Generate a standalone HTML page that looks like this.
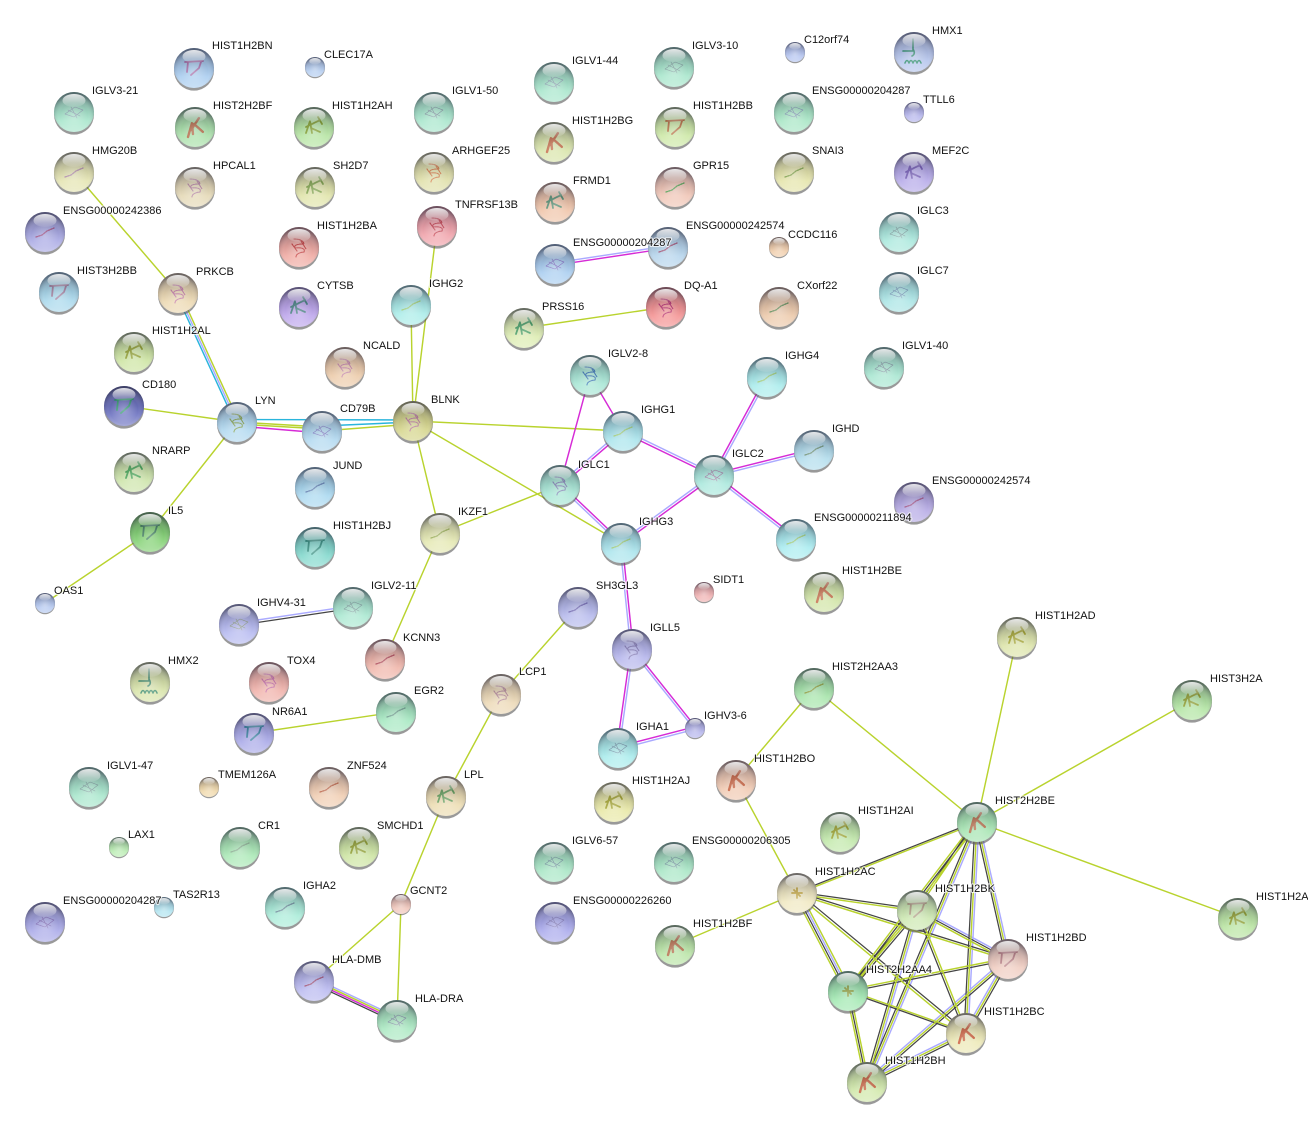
<!DOCTYPE html>
<html><head><meta charset="utf-8"><title>Network</title>
<style>
html,body{margin:0;padding:0;background:#fff}
svg{display:block}
text{font-family:"Liberation Sans",Arial,sans-serif;font-size:11px;fill:#111;stroke:#fff;stroke-width:2.2px;stroke-opacity:.75;paint-order:stroke;stroke-linejoin:round}
.e{fill:none;stroke-width:1.45}
.Y{stroke:#b9d32e}.K{stroke:#444;stroke-width:1.25}.B{stroke:#aaaaff}.M{stroke:#d62bd6}.C{stroke:#2ab5dc}
.s{fill:none;stroke-linecap:round;stroke-linejoin:round}
</style></head><body>
<svg width="1308" height="1127" viewBox="0 0 1308 1127" xmlns="http://www.w3.org/2000/svg">
<defs>
<radialGradient id="r" cx="50%" cy="60%" r="56%"><stop offset="0" stop-color="#fff" stop-opacity=".3"/><stop offset=".62" stop-color="#fff" stop-opacity="0"/><stop offset=".88" stop-color="#334" stop-opacity=".14"/><stop offset="1" stop-color="#223" stop-opacity=".36"/></radialGradient>
<linearGradient id="v" x1="0" y1="0" x2="0" y2="1"><stop offset="0" stop-color="#334" stop-opacity=".5"/><stop offset=".5" stop-color="#445" stop-opacity=".12"/><stop offset=".72" stop-color="#fff" stop-opacity=".12"/><stop offset="1" stop-color="#fff" stop-opacity=".4"/></linearGradient>
<linearGradient id="h" x1="0" y1="0" x2="0" y2="1"><stop offset="0" stop-color="#fff" stop-opacity=".85"/><stop offset="1" stop-color="#fff" stop-opacity=".06"/></linearGradient>
<g id="n"><ellipse cx="0" cy="2.6" rx="20" ry="20" fill="#555" fill-opacity=".6" stroke="none"/><circle r="20" stroke="none"/></g>
<g id="o" stroke="none"><circle r="20" fill="url(#v)"/><circle r="20" fill="url(#r)"/><ellipse cx="0" cy="-11.5" rx="11.5" ry="6.5" fill="url(#h)"/></g>
<path id="k" class="s" stroke-width="2.4" stroke-dasharray="1.8 .7" d="M-7 10L-3-4L-2 7M-4 3L4-9M-1-3L8 5"/>
<path id="t" class="s" stroke-width="1.8" d="M-9-6L9-7M-6-6L-7 4M7-6L5 0L-3 7"/>
<path id="b" class="s" stroke-width="1.1" stroke-dasharray="1.6 .9" d="M-5-8Q4-8 5-3Q-6-3-4 1Q7 0 5 5Q-3 6-3 10M-7-3L-2 4M2-6L7 2"/>
<path id="l" class="s" stroke-width="1.3" stroke-dasharray="1.6 1.2" d="M-9 5L-3 3L2-1L9-4"/>
<path id="c" class="s" stroke-width=".6" stroke-dasharray="1.5 .5" d="M-9 2L1-5L9-2L0 5ZM-6-2L6 4M-3-5L3 6"/>
<path id="g" class="s" stroke-width="1.8" stroke-dasharray="2 .6" d="M-8 6L-4-6L-2 6M-8 0L6-7M-3 1L6 5M4-10L8-3"/>
<path id="x" class="s" stroke-width="1.6" d="M-1-13V-2M-1-3Q2 2-2 4M-11-1h10M-9 11q2-5 4 0q2-5 4 0q2-5 4 0q2-5 4 0"/>
</defs>

<path class="e Y" d="M74 172L178 293M437 226L413 421M411 305L413 421M524 328L666 307M124 406L237 422M237 422L150 532M150 532L45 603M413 421L623 431M413 421L621 543M413 421L440 533M440 533L560 485M440 533L385 659M254 733L396 712M578 607L501 694M501 694L446 796M446 796L401 904M401 904L314 981M401 904L397 1020M814 688L736 780M736 780L797 893M814 688L977 822M1017 637L977 822M1192 700L977 822M1238 918L977 822M797 893L675 945M179.8 292.2L238.8 421.2M237 422L322 427M237 424L322 429M322 431L413 424M314.4 980.2L397.4 1019.2"/>
<path class="e C" d="M176.2 293.8L235.2 422.8M237 419.5L413 420M322 426L413 422"/>
<path class="e M" d="M590 375L623 431M590 375L560 485M237 426L322 433M555.2 265.2L668.2 248.2M622.2 543L633.2 649M630.8 649L616.8 748M632.9 648.3L695.9 727.3M617.7 746.8L694.7 726.8M560.8 485.9L623.8 431.9M622.5 432.1L713.5 476.1M560.8 484.1L621.8 542.1M714.7 476L621.7 544M713 474.4L766 376.4M713.7 473.8L813.7 448.8M714.7 474L796.7 538M313.6 981.8L396.6 1020.8"/>
<path class="e B" d="M178 293L237 422M554.8 262.8L667.8 245.8M238.8 622.8L352.8 605.8M619.8 543L630.8 649M633.2 649L619.2 748M631.1 649.7L694.1 728.7M618.3 749.2L695.3 729.2M559.2 484.1L622.2 430.1M623.5 429.9L714.5 473.9M559.2 485.9L620.2 543.9M713.3 474L620.3 542M715 475.6L768 377.6M714.3 476.2L814.3 451.2M713.3 476L795.3 540M315.2 978.6L398.2 1017.6"/>
<path class="e K" d="M239.2 625.2L353.2 608.2M312.8 983.4L395.8 1022.4"/>

<path class="e B" d="M797.9 892.5L848.9 990.5M868.8 1082.8L978.8 822.8M979 822L968 1033M978.9 821.6L1009.9 958.6M917.9 908.2L1008.9 957.2M918.9 910.6L868.9 1082.6M1006.3 958L964.3 1032M1006.7 957.5L865.7 1080.5M965.1 1031.2L866.1 1080.2"/>
<path class="e K" d="M797 892L917 909M797.3 892L1008.3 958M797.4 892L977.4 821M798 892.2L967 1032.2M796.1 893.5L847.1 991.5M915.3 908.9L975.3 820.9M848 991L977 822M865.2 1081.2L975.2 821.2M975 822L964 1033M975.1 822.4L1006.1 959.4M917 910L1008 959M915.5 908.7L846.5 989.7M918.5 911.3L849.5 992.3M916 910.4L965 1033.4M915.1 909.4L865.1 1081.4M1008.2 960L848.2 992M1009.7 960L967.7 1034M1009.3 960.5L868.3 1083.5M848.4 992L966.4 1034M848 991L867 1082M966.9 1034.8L867.9 1083.8"/>
<path class="e Y" d="M797 894L917 911M796.7 894L1007.7 960M796.6 894L976.6 823M796 893.8L965 1033.8M794.3 894.4L845.3 992.4M799.7 891.6L850.7 989.6M917 910L977 822M846.4 989.8L975.4 820.8M849.6 992.2L978.6 823.2M867 1082L977 822M977 822L966 1033M977 822L1008 959M916.1 911.8L1007.1 960.8M917 910L848 991M918 909.6L967 1032.6M917 910L867 1082M1007.8 958L847.8 990M1008 959L966 1033M1008 959L867 1082M847.6 990L965.6 1032M846 990.6L865 1081.6M850 991.4L869 1082.4M966 1033L867 1082"/>

<g transform="translate(74,112)" fill="#a6e6cb" stroke="#8a9ab0"><use href="#n"/><use href="#c"/><use href="#o"/></g>
<g transform="translate(194,68)" fill="#a9cdf0" stroke="#a96aa8"><use href="#n"/><use href="#t"/><use href="#o"/></g>
<g transform="translate(315,67) scale(.5)" fill="#b4cdf0"><use href="#n"/><use href="#o"/></g>
<g transform="translate(554,82)" fill="#a6e6cb" stroke="#8a9ab0"><use href="#n"/><use href="#c"/><use href="#o"/></g>
<g transform="translate(674,67)" fill="#a6e6cb" stroke="#7a9a9a"><use href="#n"/><use href="#c"/><use href="#o"/></g>
<g transform="translate(795,52) scale(.5)" fill="#b4c4f0"><use href="#n"/><use href="#o"/></g>
<g transform="translate(914,52)" fill="#b4c4ec" stroke="#2a8a6a"><use href="#n"/><use href="#x"/><use href="#o"/></g>
<g transform="translate(794,112)" fill="#a6e6c4" stroke="#7a8ab0"><use href="#n"/><use href="#c"/><use href="#o"/></g>
<g transform="translate(914,112) scale(.5)" fill="#b4b4ec"><use href="#n"/><use href="#o"/></g>
<g transform="translate(195,127)" fill="#a8e0a8" stroke="#b0603a"><use href="#n"/><use href="#k"/><use href="#o"/></g>
<g transform="translate(314,127)" fill="#b4e4a0" stroke="#7a9a20"><use href="#n"/><use href="#g"/><use href="#o"/></g>
<g transform="translate(434,112)" fill="#a6e6cb" stroke="#7a8a9a"><use href="#n"/><use href="#c"/><use href="#o"/></g>
<g transform="translate(554,142)" fill="#d8e4a8" stroke="#c0603a"><use href="#n"/><use href="#k"/><use href="#o"/></g>
<g transform="translate(675,127)" fill="#cce8a4" stroke="#b86a3a"><use href="#n"/><use href="#t"/><use href="#o"/></g>
<g transform="translate(74,172)" fill="#e4e4b0" stroke="#b088a8"><use href="#n"/><use href="#l"/><use href="#o"/></g>
<g transform="translate(195,187)" fill="#e4d8b4" stroke="#b07a9a"><use href="#n"/><use href="#b"/><use href="#o"/></g>
<g transform="translate(315,187)" fill="#e0e4a8" stroke="#7aa040"><use href="#n"/><use href="#g"/><use href="#o"/></g>
<g transform="translate(434,172)" fill="#e0e0a8" stroke="#d0703a"><use href="#n"/><use href="#b"/><use href="#o"/></g>
<g transform="translate(675,187)" fill="#f0c4b4" stroke="#4aa04a"><use href="#n"/><use href="#l"/><use href="#o"/></g>
<g transform="translate(555,202)" fill="#f0c4a8" stroke="#4a8a6a"><use href="#n"/><use href="#g"/><use href="#o"/></g>
<g transform="translate(794,172)" fill="#e4e4a8" stroke="#7aa040"><use href="#n"/><use href="#l"/><use href="#o"/></g>
<g transform="translate(914,172)" fill="#b4a8e8" stroke="#6a50b0"><use href="#n"/><use href="#g"/><use href="#o"/></g>
<g transform="translate(45,232)" fill="#a8a8e4" stroke="#a04a80"><use href="#n"/><use href="#l"/><use href="#o"/></g>
<g transform="translate(299,247)" fill="#f0a8a0" stroke="#c02a2a"><use href="#n"/><use href="#b"/><use href="#o"/></g>
<g transform="translate(437,226)" fill="#f0a0a8" stroke="#c03040"><use href="#n"/><use href="#b"/><use href="#o"/></g>
<g transform="translate(555,264)" fill="#a8cdf0" stroke="#7a60c0"><use href="#n"/><use href="#c"/><use href="#o"/></g>
<g transform="translate(668,247)" fill="#b4d4ec" stroke="#a04a70"><use href="#n"/><use href="#l"/><use href="#o"/></g>
<g transform="translate(779,247) scale(.5)" fill="#f0cca8"><use href="#n"/><use href="#o"/></g>
<g transform="translate(899,232)" fill="#a8e8dc" stroke="#7a9a9a"><use href="#n"/><use href="#c"/><use href="#o"/></g>
<g transform="translate(59,292)" fill="#a8d8ec" stroke="#a07a9a"><use href="#n"/><use href="#t"/><use href="#o"/></g>
<g transform="translate(178,293)" fill="#ecd8b0" stroke="#c070a0"><use href="#n"/><use href="#b"/><use href="#o"/></g>
<g transform="translate(299,307)" fill="#bca4ec" stroke="#3a7a7a"><use href="#n"/><use href="#g"/><use href="#o"/></g>
<g transform="translate(411,305)" fill="#a8ece8" stroke="#a0d070"><use href="#n"/><use href="#l"/><use href="#o"/></g>
<g transform="translate(524,328)" fill="#dcecb0" stroke="#3a9a5a"><use href="#n"/><use href="#g"/><use href="#o"/></g>
<g transform="translate(666,307)" fill="#f49090" stroke="#b01a60"><use href="#n"/><use href="#b"/><use href="#o"/></g>
<g transform="translate(779,307)" fill="#ecc8a8" stroke="#5a8a50"><use href="#n"/><use href="#l"/><use href="#o"/></g>
<g transform="translate(899,292)" fill="#a8e4e4" stroke="#6a8ab0"><use href="#n"/><use href="#c"/><use href="#o"/></g>
<g transform="translate(134,352)" fill="#cce4a0" stroke="#8a9a20"><use href="#n"/><use href="#g"/><use href="#o"/></g>
<g transform="translate(345,367)" fill="#eccaa8" stroke="#c07aa0"><use href="#n"/><use href="#b"/><use href="#o"/></g>
<g transform="translate(590,375)" fill="#a6e6d4" stroke="#2a6ab0"><use href="#n"/><use href="#b"/><use href="#o"/></g>
<g transform="translate(767,377)" fill="#a8ecec" stroke="#a0d070"><use href="#n"/><use href="#l"/><use href="#o"/></g>
<g transform="translate(884,367)" fill="#a6e6d0" stroke="#7a8a9a"><use href="#n"/><use href="#c"/><use href="#o"/></g>
<g transform="translate(124,406)" fill="#6a70c0" stroke="#2a9a6a"><use href="#n"/><use href="#t"/><use href="#o"/></g>
<g transform="translate(237,422)" fill="#b0d8f0" stroke="#7a9a40"><use href="#n"/><use href="#b"/><use href="#o"/></g>
<g transform="translate(322,431)" fill="#b0d8f0" stroke="#7a70c0"><use href="#n"/><use href="#c"/><use href="#o"/></g>
<g transform="translate(413,421)" fill="#d4d488" stroke="#b06a90"><use href="#n"/><use href="#b"/><use href="#o"/></g>
<g transform="translate(623,431)" fill="#a8e4ec" stroke="#a0d070"><use href="#n"/><use href="#l"/><use href="#o"/></g>
<g transform="translate(814,450)" fill="#b0dcec" stroke="#6a9070"><use href="#n"/><use href="#l"/><use href="#o"/></g>
<g transform="translate(714,475)" fill="#a8e8dc" stroke="#a06a9a"><use href="#n"/><use href="#c"/><use href="#o"/></g>
<g transform="translate(134,472)" fill="#cce4a8" stroke="#3aa04a"><use href="#n"/><use href="#g"/><use href="#o"/></g>
<g transform="translate(315,487)" fill="#a8d8f0" stroke="#5a7ab0"><use href="#n"/><use href="#l"/><use href="#o"/></g>
<g transform="translate(560,485)" fill="#a6e6d4" stroke="#7a7ab0"><use href="#n"/><use href="#b"/><use href="#o"/></g>
<g transform="translate(914,502)" fill="#b4a8e4" stroke="#a04a80"><use href="#n"/><use href="#l"/><use href="#o"/></g>
<g transform="translate(150,532)" fill="#80d070" stroke="#3a7a5a"><use href="#n"/><use href="#t"/><use href="#o"/></g>
<g transform="translate(440,533)" fill="#e4e8b0" stroke="#9ab050"><use href="#n"/><use href="#l"/><use href="#o"/></g>
<g transform="translate(315,547)" fill="#80d8cc" stroke="#2a8a7a"><use href="#n"/><use href="#t"/><use href="#o"/></g>
<g transform="translate(621,543)" fill="#a8e4ec" stroke="#a0d070"><use href="#n"/><use href="#l"/><use href="#o"/></g>
<g transform="translate(796,539)" fill="#a8ecf0" stroke="#a0d070"><use href="#n"/><use href="#l"/><use href="#o"/></g>
<g transform="translate(824,592)" fill="#d0e4a4" stroke="#c0603a"><use href="#n"/><use href="#k"/><use href="#o"/></g>
<g transform="translate(704,592) scale(.5)" fill="#f0b0b0"><use href="#n"/><use href="#o"/></g>
<g transform="translate(45,603) scale(.5)" fill="#b4c8f0"><use href="#n"/><use href="#o"/></g>
<g transform="translate(239,624)" fill="#b4b8f0" stroke="#8a9a7a"><use href="#n"/><use href="#c"/><use href="#o"/></g>
<g transform="translate(353,607)" fill="#a8e8d0" stroke="#7a9a9a"><use href="#n"/><use href="#c"/><use href="#o"/></g>
<g transform="translate(578,607)" fill="#b4b8ec" stroke="#6a60b0"><use href="#n"/><use href="#l"/><use href="#o"/></g>
<g transform="translate(632,649)" fill="#b4b4ec" stroke="#7a70b0"><use href="#n"/><use href="#b"/><use href="#o"/></g>
<g transform="translate(385,659)" fill="#f0b4a8" stroke="#b04050"><use href="#n"/><use href="#l"/><use href="#o"/></g>
<g transform="translate(1017,637)" fill="#dce4a8" stroke="#a0a020"><use href="#n"/><use href="#g"/><use href="#o"/></g>
<g transform="translate(150,682)" fill="#d8e4a8" stroke="#3a8a6a"><use href="#n"/><use href="#x"/><use href="#o"/></g>
<g transform="translate(269,682)" fill="#f0b0a8" stroke="#c060a0"><use href="#n"/><use href="#b"/><use href="#o"/></g>
<g transform="translate(501,694)" fill="#ecd8b4" stroke="#b08090"><use href="#n"/><use href="#b"/><use href="#o"/></g>
<g transform="translate(814,688)" fill="#a4e4a8" stroke="#8a9a30"><use href="#n"/><use href="#l"/><use href="#o"/></g>
<g transform="translate(1192,700)" fill="#b0e4a0" stroke="#8a9a20"><use href="#n"/><use href="#g"/><use href="#o"/></g>
<g transform="translate(396,712)" fill="#a4e8c0" stroke="#6a9a8a"><use href="#n"/><use href="#l"/><use href="#o"/></g>
<g transform="translate(254,733)" fill="#a8a8e8" stroke="#2a7a9a"><use href="#n"/><use href="#t"/><use href="#o"/></g>
<g transform="translate(695,728) scale(.5)" fill="#b4b4ec"><use href="#n"/><use href="#o"/></g>
<g transform="translate(618,748)" fill="#a8ecec" stroke="#6a8aa0"><use href="#n"/><use href="#c"/><use href="#o"/></g>
<g transform="translate(89,787)" fill="#a6e6cb" stroke="#7a9a9a"><use href="#n"/><use href="#c"/><use href="#o"/></g>
<g transform="translate(209,787) scale(.5)" fill="#f0d8a8"><use href="#n"/><use href="#o"/></g>
<g transform="translate(329,787)" fill="#f0ccb0" stroke="#c06040"><use href="#n"/><use href="#l"/><use href="#o"/></g>
<g transform="translate(736,780)" fill="#f0c8b0" stroke="#c0502a"><use href="#n"/><use href="#k"/><use href="#o"/></g>
<g transform="translate(446,796)" fill="#ecdcb0" stroke="#5a9a50"><use href="#n"/><use href="#g"/><use href="#o"/></g>
<g transform="translate(614,802)" fill="#e8e8a4" stroke="#a0a020"><use href="#n"/><use href="#g"/><use href="#o"/></g>
<g transform="translate(977,822)" fill="#a4e4b0" stroke="#b0603a"><use href="#n"/><use href="#k"/><use href="#o"/></g>
<g transform="translate(840,832)" fill="#c0e8a8" stroke="#9aa020"><use href="#n"/><use href="#g"/><use href="#o"/></g>
<g transform="translate(119,847) scale(.5)" fill="#b8ecb0"><use href="#n"/><use href="#o"/></g>
<g transform="translate(240,847)" fill="#a8e8b4" stroke="#8ab090"><use href="#n"/><use href="#l"/><use href="#o"/></g>
<g transform="translate(359,847)" fill="#cce4a0" stroke="#8a9a20"><use href="#n"/><use href="#g"/><use href="#o"/></g>
<g transform="translate(554,862)" fill="#a6e6c4" stroke="#6a8a9a"><use href="#n"/><use href="#c"/><use href="#o"/></g>
<g transform="translate(674,862)" fill="#a6e6c4" stroke="#6a8a9a"><use href="#n"/><use href="#c"/><use href="#o"/></g>
<g transform="translate(797,893)" fill="#f0e8c0" stroke="#c0a030"><use href="#n"/><path class="s" stroke-width="1.8" d="M-5 0H5M0-5V5M-3-3L3 3"/><use href="#o"/></g>
<g transform="translate(401,904) scale(.5)" fill="#f0c4b8"><use href="#n"/><use href="#o"/></g>
<g transform="translate(45,922)" fill="#a8a8e8" stroke="#7a60b0"><use href="#n"/><use href="#c"/><use href="#o"/></g>
<g transform="translate(164,907) scale(.5)" fill="#b0e4f0"><use href="#n"/><use href="#o"/></g>
<g transform="translate(285,907)" fill="#a8ecd8" stroke="#6a8a9a"><use href="#n"/><use href="#l"/><use href="#o"/></g>
<g transform="translate(555,922)" fill="#a8a8ec" stroke="#7a70b0"><use href="#n"/><use href="#c"/><use href="#o"/></g>
<g transform="translate(917,910)" fill="#cce8b0" stroke="#b09a80"><use href="#n"/><use href="#t"/><use href="#o"/></g>
<g transform="translate(675,945)" fill="#b8e4a4" stroke="#b0603a"><use href="#n"/><use href="#k"/><use href="#o"/></g>
<g transform="translate(1238,918)" fill="#b8e4a0" stroke="#8a9a20"><use href="#n"/><use href="#g"/><use href="#o"/></g>
<g transform="translate(1008,959)" fill="#f0ccc0" stroke="#b87a80"><use href="#n"/><use href="#t"/><use href="#o"/></g>
<g transform="translate(314,981)" fill="#b8b8f0" stroke="#a04a70"><use href="#n"/><use href="#l"/><use href="#o"/></g>
<g transform="translate(848,991)" fill="#a0e8b0" stroke="#8a9a30"><use href="#n"/><path class="s" stroke-width="1.8" d="M-5 0H5M0-5V5M-3-3L3 3"/><use href="#o"/></g>
<g transform="translate(397,1020)" fill="#a8e8c0" stroke="#7a80a0"><use href="#n"/><use href="#c"/><use href="#o"/></g>
<g transform="translate(966,1033)" fill="#ece8b4" stroke="#c8502a"><use href="#n"/><use href="#k"/><use href="#o"/></g>
<g transform="translate(867,1082)" fill="#d0e8a8" stroke="#c0502a"><use href="#n"/><use href="#k"/><use href="#o"/></g>

<g>
<text x="92" y="94">IGLV3-21</text>
<text x="212" y="49">HIST1H2BN</text>
<text x="324" y="58">CLEC17A</text>
<text x="572" y="64">IGLV1-44</text>
<text x="692" y="49">IGLV3-10</text>
<text x="804" y="43">C12orf74</text>
<text x="932" y="34">HMX1</text>
<text x="812" y="94">ENSG00000204287</text>
<text x="923" y="103">TTLL6</text>
<text x="213" y="109">HIST2H2BF</text>
<text x="332" y="109">HIST1H2AH</text>
<text x="452" y="94">IGLV1-50</text>
<text x="572" y="124">HIST1H2BG</text>
<text x="693" y="109">HIST1H2BB</text>
<text x="92" y="154">HMG20B</text>
<text x="213" y="169">HPCAL1</text>
<text x="333" y="169">SH2D7</text>
<text x="452" y="154">ARHGEF25</text>
<text x="693" y="169">GPR15</text>
<text x="573" y="184">FRMD1</text>
<text x="812" y="154">SNAI3</text>
<text x="932" y="154">MEF2C</text>
<text x="63" y="214">ENSG00000242386</text>
<text x="317" y="229">HIST1H2BA</text>
<text x="455" y="208">TNFRSF13B</text>
<text x="573" y="246">ENSG00000204287</text>
<text x="686" y="229">ENSG00000242574</text>
<text x="788" y="238">CCDC116</text>
<text x="917" y="214">IGLC3</text>
<text x="77" y="274">HIST3H2BB</text>
<text x="196" y="275">PRKCB</text>
<text x="317" y="289">CYTSB</text>
<text x="429" y="287">IGHG2</text>
<text x="542" y="310">PRSS16</text>
<text x="684" y="289">DQ-A1</text>
<text x="797" y="289">CXorf22</text>
<text x="917" y="274">IGLC7</text>
<text x="152" y="334">HIST1H2AL</text>
<text x="363" y="349">NCALD</text>
<text x="608" y="357">IGLV2-8</text>
<text x="785" y="359">IGHG4</text>
<text x="902" y="349">IGLV1-40</text>
<text x="142" y="388">CD180</text>
<text x="255" y="404">LYN</text>
<text x="340" y="412">CD79B</text>
<text x="431" y="403">BLNK</text>
<text x="641" y="413">IGHG1</text>
<text x="832" y="432">IGHD</text>
<text x="732" y="457">IGLC2</text>
<text x="152" y="454">NRARP</text>
<text x="333" y="469">JUND</text>
<text x="578" y="468">IGLC1</text>
<text x="932" y="484">ENSG00000242574</text>
<text x="168" y="514">IL5</text>
<text x="458" y="515">IKZF1</text>
<text x="333" y="529">HIST1H2BJ</text>
<text x="639" y="525">IGHG3</text>
<text x="814" y="521">ENSG00000211894</text>
<text x="842" y="574">HIST1H2BE</text>
<text x="713" y="583">SIDT1</text>
<text x="54" y="594">OAS1</text>
<text x="257" y="606">IGHV4-31</text>
<text x="371" y="589">IGLV2-11</text>
<text x="596" y="589">SH3GL3</text>
<text x="650" y="631">IGLL5</text>
<text x="403" y="641">KCNN3</text>
<text x="1035" y="619">HIST1H2AD</text>
<text x="168" y="664">HMX2</text>
<text x="287" y="664">TOX4</text>
<text x="519" y="675">LCP1</text>
<text x="832" y="670">HIST2H2AA3</text>
<text x="1210" y="682">HIST3H2A</text>
<text x="414" y="694">EGR2</text>
<text x="272" y="715">NR6A1</text>
<text x="704" y="719">IGHV3-6</text>
<text x="636" y="730">IGHA1</text>
<text x="107" y="769">IGLV1-47</text>
<text x="218" y="778">TMEM126A</text>
<text x="347" y="769">ZNF524</text>
<text x="754" y="762">HIST1H2BO</text>
<text x="464" y="778">LPL</text>
<text x="632" y="784">HIST1H2AJ</text>
<text x="995" y="804">HIST2H2BE</text>
<text x="858" y="814">HIST1H2AI</text>
<text x="128" y="838">LAX1</text>
<text x="258" y="829">CR1</text>
<text x="377" y="829">SMCHD1</text>
<text x="572" y="844">IGLV6-57</text>
<text x="692" y="844">ENSG00000206305</text>
<text x="815" y="875">HIST1H2AC</text>
<text x="410" y="894">GCNT2</text>
<text x="63" y="904">ENSG00000204287</text>
<text x="173" y="898">TAS2R13</text>
<text x="303" y="889">IGHA2</text>
<text x="573" y="904">ENSG00000226260</text>
<text x="935" y="892">HIST1H2BK</text>
<text x="693" y="927">HIST1H2BF</text>
<text x="1256" y="900">HIST1H2A</text>
<text x="1026" y="941">HIST1H2BD</text>
<text x="332" y="963">HLA-DMB</text>
<text x="866" y="973">HIST2H2AA4</text>
<text x="415" y="1002">HLA-DRA</text>
<text x="984" y="1015">HIST1H2BC</text>
<text x="885" y="1064">HIST1H2BH</text>
</g>
</svg>
</body></html>
